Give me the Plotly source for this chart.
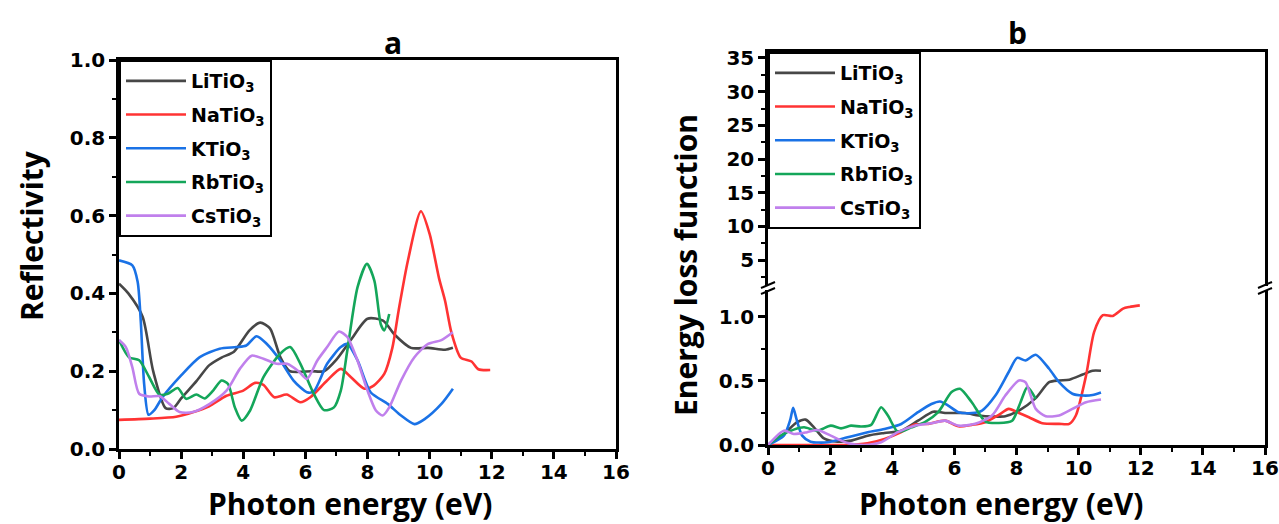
import plotly.graph_objects as go

W, H = 1279, 524

# ---------------- data ----------------
names = ["LiTiO<sub>3</sub>", "NaTiO<sub>3</sub>", "KTiO<sub>3</sub>",
         "RbTiO<sub>3</sub>", "CsTiO<sub>3</sub>"]
colors = ["#474747", "#ff3333", "#1a72e6", "#14a65a", "#c080ec"]

# Reflectivity
li_r_x = [0, 0.3, 0.76, 1.1, 1.5, 1.75, 2.0, 2.5, 2.9, 3.3, 3.7, 4.2, 4.55, 4.86, 5.2, 5.5,
          6.2, 6.6, 7.0, 7.46, 8.0, 8.5, 8.86, 9.4, 9.95, 10.5, 10.75]
li_r_y = [0.425, 0.40, 0.34, 0.2, 0.105, 0.105, 0.13, 0.175, 0.215, 0.235, 0.25, 0.305, 0.325,
          0.31, 0.235, 0.20, 0.20, 0.20, 0.23, 0.28, 0.335, 0.33, 0.295, 0.26, 0.26, 0.255, 0.26]

na_r_x = [0, 1.0, 1.84, 2.4, 2.9, 3.46, 4.0, 4.38, 4.65, 5.0, 5.4, 5.84, 6.16, 6.7, 7.14, 7.46,
          7.9, 8.2, 8.54, 8.8, 9.0, 9.3, 9.72, 10.0, 10.3, 10.5, 10.7, 11.0, 11.35, 11.57, 11.95]
na_r_y = [0.075, 0.078, 0.083, 0.095, 0.11, 0.137, 0.15, 0.17, 0.165, 0.133, 0.14, 0.12, 0.133,
          0.176, 0.206, 0.185, 0.155, 0.163, 0.193, 0.26, 0.355, 0.484, 0.611, 0.553, 0.44, 0.38,
          0.30, 0.235, 0.225, 0.205, 0.203]

k_r_x = [0, 0.43, 0.6, 0.7, 0.81, 0.95, 1.13, 1.4, 2.0, 2.6, 3.24, 3.78, 4.1, 4.43, 4.76, 5.19,
         5.62, 6.05, 6.27, 6.7, 7.14, 7.35, 7.68, 8.1, 8.65, 9.08, 9.51, 9.84, 10.38, 10.75]
k_r_y = [0.485, 0.472, 0.43, 0.33, 0.167, 0.088, 0.099, 0.133, 0.189, 0.236, 0.258, 0.262, 0.266,
         0.29, 0.27, 0.228, 0.176, 0.146, 0.148, 0.219, 0.262, 0.27, 0.228, 0.146, 0.116, 0.086,
         0.064, 0.077, 0.116, 0.155]

rb_r_x = [0, 0.32, 0.65, 0.97, 1.3, 1.57, 1.89, 2.16, 2.49, 2.76, 3.03, 3.3, 3.51, 3.73, 3.95,
          4.22, 4.65, 5.19, 5.51, 5.84, 6.27, 6.6, 6.92, 7.14, 7.35, 7.68, 7.98, 8.22, 8.43, 8.54, 8.7]
rb_r_y = [0.28, 0.236, 0.228, 0.185, 0.14, 0.142, 0.157, 0.129, 0.14, 0.13, 0.15, 0.176, 0.167,
          0.107, 0.073, 0.099, 0.185, 0.245, 0.262, 0.219, 0.142, 0.10, 0.107, 0.15, 0.253, 0.416,
          0.476, 0.433, 0.32, 0.305, 0.347]

cs_r_x = [0, 0.22, 0.43, 0.65, 0.97, 1.3, 1.62, 1.95, 2.38, 2.92, 3.46, 3.89, 4.27, 4.65, 5.08,
          5.41, 5.78, 6.05, 6.38, 6.7, 7.08, 7.35, 7.68, 8.0, 8.27, 8.49, 8.7, 9.08, 9.51, 9.95,
          10.38, 10.75]
cs_r_y = [0.28, 0.262, 0.21, 0.142, 0.135, 0.136, 0.116, 0.095, 0.095, 0.116, 0.15, 0.206, 0.24,
          0.232, 0.219, 0.219, 0.2, 0.18, 0.227, 0.262, 0.302, 0.288, 0.227, 0.15, 0.099, 0.086,
          0.107, 0.176, 0.236, 0.27, 0.28, 0.30]

# Energy loss function
li_l_x = [0, 0.51, 0.94, 1.21, 1.48, 1.8, 2.24, 2.67, 3.21, 3.75, 4.29, 4.83, 5.32, 5.7, 6.35,
          6.78, 7.21, 7.64, 8.08, 8.62, 9.05, 9.37, 9.7, 10.13, 10.45, 10.72]
li_l_y = [0, 0.086, 0.178, 0.198, 0.138, 0.052, 0.026, 0.034, 0.073, 0.094, 0.112, 0.19, 0.26,
          0.25, 0.25, 0.23, 0.222, 0.225, 0.269, 0.366, 0.49, 0.504, 0.51, 0.55, 0.58, 0.58]

na_l_x = [0, 1.2, 2.45, 3.2, 3.75, 4.29, 4.72, 5.16, 5.7, 6.13, 6.56, 7.0, 7.43, 7.75, 8.08, 8.4,
          8.83, 9.37, 9.7, 9.91, 10.24, 10.5, 10.78, 11.1, 11.43, 11.64, 11.97]
na_l_y = [0, 0, 0, 0.013, 0.047, 0.1, 0.16, 0.165, 0.19, 0.146, 0.157, 0.178, 0.235, 0.282, 0.25,
          0.217, 0.17, 0.165, 0.165, 0.23, 0.543, 0.883, 1.013, 1.008, 1.065, 1.078, 1.09]

k_l_x = [0, 0.51, 0.72, 0.81, 0.92, 1.1, 1.37, 1.91, 2.56, 3.21, 3.75, 4.29, 4.83, 5.26, 5.54,
         5.8, 6.13, 6.56, 6.89, 7.32, 7.75, 8.02, 8.29, 8.62, 9.05, 9.37, 9.8, 10.13, 10.45, 10.72]
k_l_y = [0, 0.073, 0.2, 0.29, 0.2, 0.073, 0.026, 0.021, 0.06, 0.1, 0.125, 0.164, 0.256, 0.32,
         0.34, 0.308, 0.256, 0.25, 0.269, 0.386, 0.57, 0.68, 0.66, 0.705, 0.595, 0.49, 0.4, 0.386,
         0.39, 0.41]

rb_l_x = [0, 0.4, 0.83, 1.16, 1.59, 2.02, 2.35, 2.67, 3.0, 3.32, 3.64, 3.86, 4.18, 4.62, 5.05,
          5.48, 5.91, 6.18, 6.56, 7.0, 7.43, 7.86, 8.13, 8.35, 8.62]
rb_l_y = [0, 0.073, 0.12, 0.138, 0.112, 0.151, 0.13, 0.151, 0.144, 0.157, 0.295, 0.23, 0.104,
          0.138, 0.178, 0.256, 0.413, 0.439, 0.334, 0.183, 0.172, 0.19, 0.334, 0.452, 0.36]

cs_l_x = [0, 0.51, 0.83, 1.26, 1.59, 2.02, 2.56, 3.1, 3.64, 4.18, 4.72, 5.26, 5.7, 6.13, 6.67,
          7.21, 7.64, 8.08, 8.29, 8.62, 8.94, 9.37, 9.8, 10.24, 10.72]
cs_l_y = [0, 0.112, 0.086, 0.1, 0.117, 0.073, 0.016, 0.0, 0.021, 0.1, 0.151, 0.17, 0.19, 0.151,
          0.165, 0.23, 0.386, 0.504, 0.49, 0.282, 0.225, 0.23, 0.282, 0.334, 0.355]

refl = [(li_r_x, li_r_y), (na_r_x, na_r_y), (k_r_x, k_r_y), (rb_r_x, rb_r_y), (cs_r_x, cs_r_y)]
loss = [(li_l_x, li_l_y), (na_l_x, na_l_y), (k_l_x, k_l_y), (rb_l_x, rb_l_y), (cs_l_x, cs_l_y)]

x_ticks = [0, 2, 4, 6, 8, 10, 12, 14, 16]
refl_ticks = [0.0, 0.2, 0.4, 0.6, 0.8, 1.0]
loss_low_ticks = [0.0, 0.5, 1.0]
loss_high_ticks = [5, 10, 15, 20, 25, 30, 35]


# ---------------- helpers ----------------
def px(p):
    return p / W


def py(p):
    return 1 - p / H


TICK_FONT = dict(family="DejaVu Sans", size=20, color="black", weight="bold")
TITLE_FONT = dict(family="Open Sans", size=30, color="black", weight="bold")
LEG_FONT = dict(family="DejaVu Sans", size=19, color="black", weight="bold")

fig = go.Figure()

for i, ((x, y), n, c) in enumerate(zip(refl, names, colors)):
    fig.add_trace(go.Scatter(x=x, y=y, name=n, mode="lines", legendgroup=f"a{i}",
                             line=dict(color=c, width=2.6, shape="spline", smoothing=0.7),
                             xaxis="x", yaxis="y", legend="legend"))
for i, ((x, y), n, c) in enumerate(zip(loss, names, colors)):
    fig.add_trace(go.Scatter(x=x, y=y, name=n, mode="lines", legendgroup=f"b{i}",
                             line=dict(color=c, width=2.6, shape="spline", smoothing=0.7),
                             xaxis="x2", yaxis="y2", legend="legend2"))
# empty trace so the upper (broken) part of panel b gets its axes
fig.add_trace(go.Scatter(x=[None], y=[None], xaxis="x3", yaxis="y3", showlegend=False,
                         hoverinfo="skip"))

axis_common = dict(showline=True, linewidth=2.5, linecolor="black", showgrid=False,
                   zeroline=False, ticks="outside", ticklen=7, tickwidth=2.5,
                   tickcolor="black", tickfont=TICK_FONT, automargin=False)

xa = dict(range=[0, 16], tickvals=x_ticks, ticktext=[str(v) for v in x_ticks],
          ticklabelstandoff=-4,
          minor=dict(dtick=1, tick0=0, ticks="outside", ticklen=4, tickwidth=2,
                     tickcolor="black"), **axis_common)

# panel geometry (pixels)
A_L, A_R, A_T, A_B = 119, 616, 60, 449
B_L, B_R, B_T, B_B = 768, 1265, 52, 445
B_LOW_T, B_UP_B = 290, 286

legend_common = dict(xanchor="left", yanchor="top", bgcolor="white", bordercolor="black",
                     borderwidth=2, font=LEG_FONT, itemwidth=60, tracegroupgap=6)

fig.update_layout(
    width=W, height=H, margin=dict(l=0, r=0, t=0, b=0),
    paper_bgcolor="white", plot_bgcolor="white",
    xaxis=dict(domain=[px(A_L), px(A_R)], anchor="y", mirror=True, **xa),
    yaxis=dict(domain=[py(A_B), py(A_T)], anchor="x", range=[0, 1], mirror=True,
               tickvals=refl_ticks, tickformat=".1f",
               minor=dict(dtick=0.1, tick0=0, ticks="outside", ticklen=4, tickwidth=2,
                          tickcolor="black"), **axis_common),
    xaxis2=dict(domain=[px(B_L), px(B_R)], anchor="y2", mirror=False, **xa),
    yaxis2=dict(domain=[py(B_B), py(B_LOW_T)], anchor="x2", range=[0, 1.21], mirror=True,
                tickvals=loss_low_ticks, tickformat=".1f",
                minor=dict(dtick=0.25, tick0=0, ticks="outside", ticklen=4, tickwidth=2,
                           tickcolor="black"), **axis_common),
    xaxis3=dict(domain=[px(B_L), px(B_R)], anchor="y3", matches="x2", side="top",
                showline=True, linewidth=2.5, linecolor="black", showgrid=False,
                zeroline=False, ticks="", showticklabels=False, automargin=False),
    yaxis3=dict(domain=[py(B_UP_B), py(B_T)], anchor="x3", range=[1.14, 35.89], mirror=True,
                tickvals=loss_high_ticks,
                minor=dict(dtick=2.5, tick0=0, ticks="outside", ticklen=4, tickwidth=2,
                           tickcolor="black"), **axis_common),
    legend=dict(x=px(A_L), y=py(A_T), **legend_common),
    legend2=dict(x=px(B_L), y=py(B_T), **legend_common),
)

# panel labels and axis titles
ann = [
    dict(text="a", x=px(393), y=py(43)),
    dict(text="b", x=px(1017), y=py(33)),
    dict(text="Photon energy (eV)", x=px(350), y=py(503)),
    dict(text="Photon energy (eV)", x=px(1001), y=py(503)),
    dict(text="Reflectivity", x=px(31), y=py(236), textangle=-90),
    dict(text="Energy loss function", x=px(685), y=py(265), textangle=-90),
]
for a in ann:
    fig.add_annotation(xref="paper", yref="paper", showarrow=False, xanchor="center",
                       yanchor="middle", font=TITLE_FONT, **a)

# axis-break marks on the left and right edges of panel b
for xb in (B_L, B_R):
    for yb in (285, 291):
        fig.add_shape(type="line", xref="paper", yref="paper",
                      x0=px(xb - 7), y0=py(yb + 3), x1=px(xb + 7), y1=py(yb - 3),
                      line=dict(color="black", width=2))

fig.write_html("out.html")
